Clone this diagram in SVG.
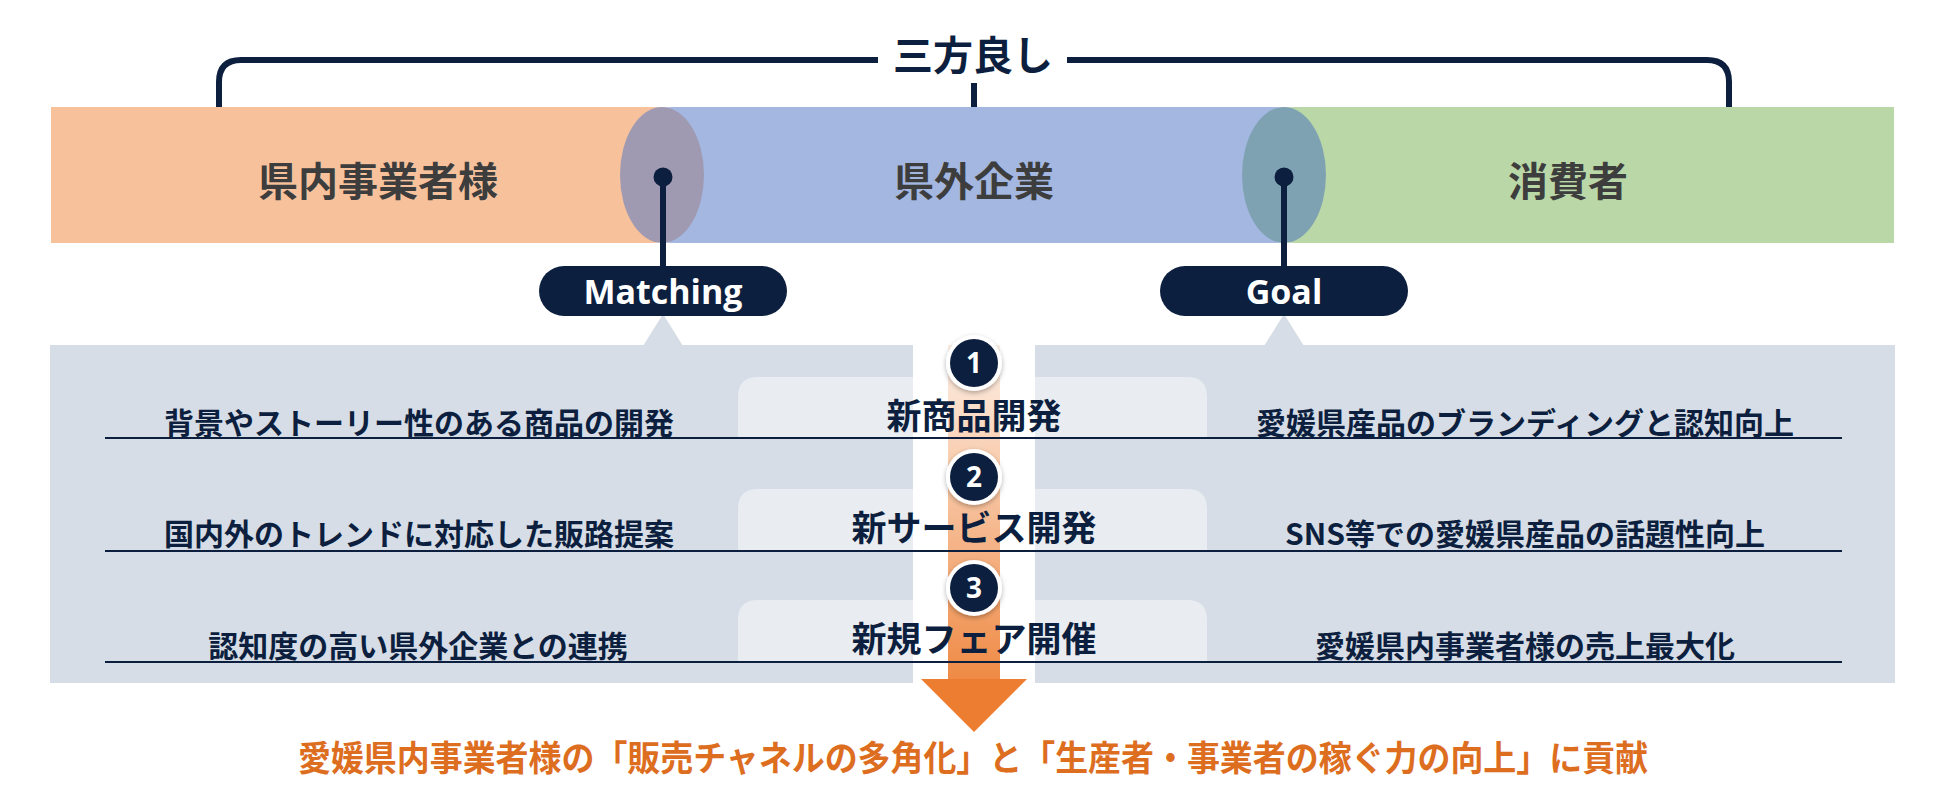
<svg xmlns="http://www.w3.org/2000/svg" width="1950" height="788" viewBox="0 0 1950 788">
<defs>
<style>
.jp{font-family:"Noto Sans CJK JP","Noto Sans",sans-serif;font-weight:700;text-anchor:middle}
.band{font-size:40px;fill:#3d3d3d}
.navy{fill:#0d1f3e}
.item{font-size:30px;fill:#0d1f3e}
.step{font-size:35px;fill:#0d1f3e}
.pill{fill:#0d1f3e}
.pilltxt{font-family:"Open Sans","Liberation Sans",sans-serif;font-weight:700;font-size:34px;fill:#ffffff;text-anchor:middle}
.num{font-family:"Open Sans","Liberation Sans",sans-serif;font-weight:700;font-size:28px;fill:#ffffff;text-anchor:middle}
.conn{stroke:#0d1f3e;stroke-width:6;fill:none}
.rule{stroke:#0d1f3e;stroke-width:2}
.panel{fill:#d6dde7}
.tab{fill:#e9edf2}
</style>
<linearGradient id="shaft" x1="0" y1="345" x2="0" y2="680" gradientUnits="userSpaceOnUse">
<stop offset="0" stop-color="#fdf1e8"/>
<stop offset="1" stop-color="#ef8a45"/>
</linearGradient>
<filter id="sh" x="-30%" y="-30%" width="160%" height="170%">
<feDropShadow dx="0" dy="2" stdDeviation="2.5" flood-color="#000" flood-opacity="0.3"/>
</filter>
</defs>
<rect width="1950" height="788" fill="#ffffff"/>

<!-- panel -->
<g id="panel">
<rect class="panel" x="50" y="345" width="1845" height="338"/>
<polygon class="panel" points="663,314 643,346 683,346"/>
<polygon class="panel" points="1284,314 1264,346 1304,346"/>
<path class="tab" d="M738,437 V397 Q738,377 758,377 H1187 Q1207,377 1207,397 V437 Z"/>
<path class="tab" d="M738,550 V509 Q738,489 758,489 H1187 Q1207,489 1207,509 V550 Z"/>
<path class="tab" d="M738,662 V620 Q738,600 758,600 H1187 Q1207,600 1207,620 V662 Z"/>
<rect x="913" y="345" width="122" height="338" fill="#ffffff"/>
</g>

<!-- bands -->
<g id="band-left">
<path d="M51,107 H653 A30,30 0 0 1 683,137 V213 A30,30 0 0 1 653,243 H51 Z" fill="#f7c19c"/>
</g>
<g id="band-center">
<rect x="642" y="107" width="663" height="136" rx="30" fill="#a3b7e0"/>
</g>
<g id="band-right">
<path d="M1894,107 H1294 A30,30 0 0 0 1264,137 V213 A30,30 0 0 0 1294,243 H1894 Z" fill="#bad7a7"/>
</g>
<ellipse cx="662" cy="175" rx="42" ry="68" fill="#9f9ab1"/>
<ellipse cx="1284" cy="175" rx="42" ry="68" fill="#7fa2b3"/>
<text class="jp band" x="378" y="196">県内事業者様</text>
<text class="jp band" x="974" y="196">県外企業</text>
<text class="jp band" x="1568" y="196">消費者</text>

<!-- connectors -->
<g id="connectors">
<path class="conn" d="M219,107 V82 Q219,60 241,60 H878"/>
<path class="conn" d="M1067,60 H1707 Q1729,60 1729,82 V107"/>
<path class="conn" d="M974,83 V107"/>
<line class="conn" x1="663" y1="177" x2="663" y2="268" stroke-width="5"/>
<circle cx="663" cy="177" r="9.5" class="navy"/>
<line class="conn" x1="1284" y1="177" x2="1284" y2="268" stroke-width="5"/>
<circle cx="1284" cy="177" r="9.5" class="navy"/>
</g>

<g id="title">
<text class="jp navy" x="973" y="70" font-size="40">三方良し</text>
</g>

<g id="pill-matching">
<rect class="pill" x="539" y="266" width="248" height="50" rx="25"/>
<text class="pilltxt" x="663" y="304">Matching</text>
</g>
<g id="pill-goal">
<rect class="pill" x="1160" y="266" width="248" height="50" rx="25"/>
<text class="pilltxt" x="1284" y="304">Goal</text>
</g>

<!-- arrow -->
<g id="arrow">
<rect x="948" y="345" width="52" height="335" fill="url(#shaft)"/>
<polygon points="921,679 1027,679 974,732" fill="#ed7d31"/>
</g>

<!-- rules -->
<g id="rules">
<line class="rule" x1="105" y1="438" x2="1842" y2="438"/>
<line class="rule" x1="105" y1="551" x2="1842" y2="551"/>
<line class="rule" x1="105" y1="662" x2="1842" y2="662"/>
</g>

<g id="step1">
<circle cx="974" cy="363" r="28" fill="#ffffff" filter="url(#sh)"/>
<circle cx="974" cy="363" r="24" class="navy"/>
<text class="num" x="974" y="373">1</text>
<text class="jp step" x="974" y="429">新商品開発</text>
</g>
<g id="step2">
<circle cx="974" cy="477" r="28" fill="#ffffff" filter="url(#sh)"/>
<circle cx="974" cy="477" r="24" class="navy"/>
<text class="num" x="974" y="487">2</text>
<text class="jp step" x="974" y="541">新サービス開発</text>
</g>
<g id="step3">
<circle cx="974" cy="588" r="28" fill="#ffffff" filter="url(#sh)"/>
<circle cx="974" cy="588" r="24" class="navy"/>
<text class="num" x="974" y="598">3</text>
<text class="jp step" x="974" y="652">新規フェア開催</text>
</g>

<g id="left-items">
<text class="jp item" x="419" y="434">背景やストーリー性のある商品の開発</text>
<text class="jp item" x="419" y="545">国内外のトレンドに対応した販路提案</text>
<text class="jp item" x="418" y="657">認知度の高い県外企業との連携</text>
</g>
<g id="right-items">
<text class="jp item" x="1525" y="434">愛媛県産品のブランディングと認知向上</text>
<text class="jp item" x="1525" y="545">SNS等での愛媛県産品の話題性向上</text>
<text class="jp item" x="1525" y="657">愛媛県内事業者様の売上最大化</text>
</g>

<g id="result">
<text class="jp" x="973" y="771" font-size="35" fill="#dd6e1f" textLength="1350" lengthAdjust="spacingAndGlyphs">愛媛県内事業者様の「販売チャネルの多角化」と「生産者・事業者の稼ぐ力の向上」に貢献</text>
</g>
</svg>
